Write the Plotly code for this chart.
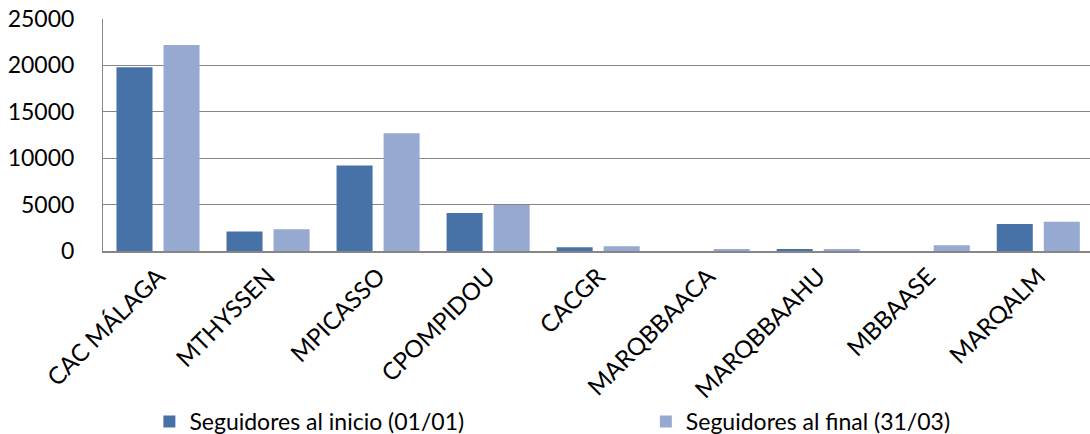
import plotly.graph_objects as go

categories = ["CAC MÁLAGA", "MTHYSSEN", "MPICASSO", "CPOMPIDOU", "CACGR",
              "MARQBBAACA", "MARQBBAAHU", "MBBAASE", "MARQALM"]
inicio = [19800, 2100, 9200, 4100, 400, 0, 150, 0, 2900]
final = [22200, 2350, 12700, 4950, 500, 180, 180, 620, 3150]
yticks = [0, 5000, 10000, 15000, 20000, 25000]

FONT = "Lato"

fig = go.Figure()
fig.add_trace(go.Bar(x=categories, y=inicio, name="Seguidores al inicio (01/01)",
                     marker=dict(color="#4672A8", line=dict(width=0)), legend="legend"))
fig.add_trace(go.Bar(x=categories, y=final, name="Seguidores al final (31/03)",
                     marker=dict(color="#95A9D1", line=dict(width=0)), legend="legend2"))

leg_common = dict(orientation="h", xanchor="left", y=-0.735, yanchor="middle",
                  font=dict(family=FONT, size=23, color="#000000"),
                  itemwidth=30, bgcolor="rgba(0,0,0,0)", borderwidth=0)

fig.update_layout(
    width=1090, height=434,
    margin=dict(l=103, r=0, t=19, b=183, autoexpand=False),
    paper_bgcolor="white", plot_bgcolor="white",
    barmode="group", bargap=0.145, bargroupgap=0.234,
    font=dict(family=FONT, color="#000000"),
    showlegend=True,
    legend=dict(x=0.047, **leg_common),
    legend2=dict(x=0.550, **leg_common),
)
fig.update_xaxes(
    range=[-0.5, 8.47], tickangle=-45, tickfont=dict(family=FONT, size=24),
    showgrid=False, showline=True, linecolor="#868686", linewidth=2,
    ticks="", ticklen=0, automargin=False,
)
fig.update_yaxes(
    range=[0, 25000], tickvals=yticks, ticktext=[str(v) for v in yticks],
    tickfont=dict(family=FONT, size=23),
    showgrid=True, gridcolor="#868686", gridwidth=1,
    showline=True, linecolor="#868686", linewidth=1,
    ticks="outside", ticklen=0, tickcolor="white", ticklabelstandoff=23,
    ticklabeloverflow="allow",
    zeroline=False, automargin=False,
)
fig.write_html("out.html", config={"displayModeBar": False},
               post_script="document.body.style.margin='0px';")
